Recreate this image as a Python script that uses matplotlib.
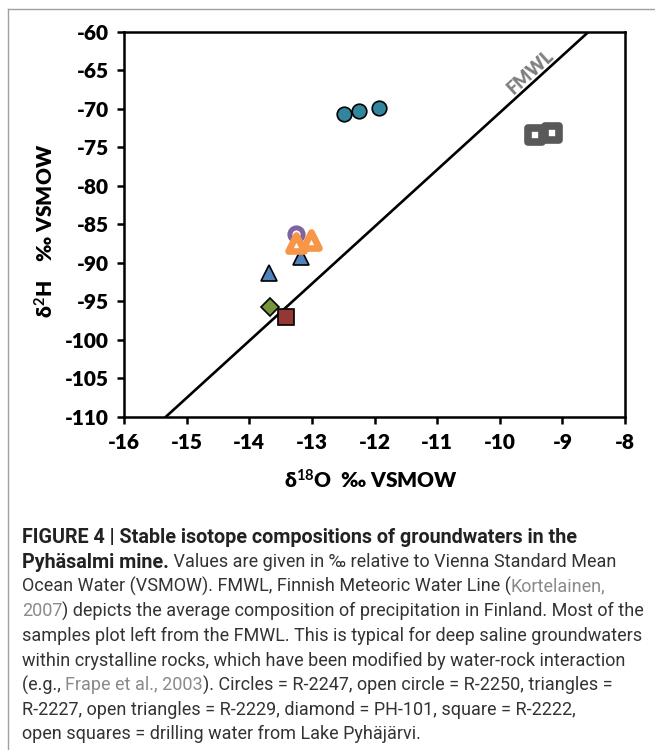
import matplotlib
matplotlib.use("Agg")
import matplotlib.pyplot as plt
from matplotlib.markers import MarkerStyle
from matplotlib import font_manager
from matplotlib.lines import Line2D

# ---------------- data ----------------
circles_x = [-12.49, -12.25, -11.93]          # R-2247
circles_y = [-70.7, -70.3, -69.9]
open_circle_x = [-13.25]                      # R-2250
open_circle_y = [-86.3]
triangles_x = [-13.18, -13.68]                # R-2227
triangles_y = [-89.2, -91.3]
open_triangles_x = [-13.26, -13.02]           # R-2229
open_triangles_y = [-87.5, -87.0]
diamond_x = [-13.67]                          # PH-101
diamond_y = [-95.7]
square_x = [-13.41]                           # R-2222
square_y = [-97.0]
open_squares_x = [-9.44, -9.17]               # drilling water
open_squares_y = [-73.4, -73.1]
fmwl_x = [-15.33, -8.58]                      # FMWL endpoints
fmwl_y = [-110.0, -60.0]

x_ticks = [-16, -15, -14, -13, -12, -11, -10, -9, -8]
y_ticks = [-60, -65, -70, -75, -80, -85, -90, -95, -100, -105, -110]

W, H = 655, 750
DPI = 100
plt.rcParams["mathtext.fontset"] = "custom"
plt.rcParams["mathtext.rm"] = "Lato:bold"
plt.rcParams["mathtext.it"] = "Lato:bold"
plt.rcParams["mathtext.bf"] = "Lato:bold"
fig = plt.figure(figsize=(W / DPI, H / DPI), dpi=DPI)

chart_font = ["Lato", "DejaVu Sans"]
TICK_W = "heavy"

def px(x, y):
    return x / W, 1 - y / H

left, right, top, bottom = 124, 625, 31.7, 416.7
ax = fig.add_axes([left / W, 1 - bottom / H, (right - left) / W, (bottom - top) / H])
ax.set_xlim(-16, -8)
ax.set_ylim(-110, -60)
ax.set_xticks(x_ticks)
ax.set_yticks(y_ticks)
ax.set_xticklabels([str(v) for v in x_ticks], fontfamily=chart_font, fontweight=TICK_W, fontsize=15)
ax.set_yticklabels([str(v) for v in y_ticks], fontfamily=chart_font, fontweight=TICK_W, fontsize=15)
ax.tick_params(axis="x", direction="out", length=5, width=1.8, pad=7, colors="black")
ax.tick_params(axis="y", direction="out", length=5, width=1.8, pad=6, colors="black")
for s in ax.spines.values():
    s.set_linewidth(1.8)

# FMWL
ax.plot(fmwl_x, fmwl_y, color="black", lw=1.9, zorder=2)
ax.text(-9.5, -65.3, "FMWL", rotation=42.5, color="#7f7f7f", fontweight="heavy",
        fontsize=13, fontfamily=chart_font, ha="center", va="center", rotation_mode="anchor")

# markers
ax.plot(circles_x, circles_y, ls="none", marker="o", ms=10.5, mfc="#31859C", mec="black", mew=1.2, zorder=3)
ax.plot(open_squares_x, open_squares_y, ls="none", marker=MarkerStyle("s", joinstyle="round"),
        ms=9.5, mfc="white", mec="#595959", mew=5.5, zorder=3)
ax.plot(triangles_x, triangles_y, ls="none", marker="^", ms=11.5, mfc="#4F81BD", mec="black", mew=1.2, zorder=3)
ax.plot(open_circle_x, open_circle_y, ls="none", marker="o", ms=9.5, mfc="white", mec="#8064A2", mew=3.6, zorder=4)
ax.plot(open_triangles_x, open_triangles_y, ls="none", marker=MarkerStyle("^", joinstyle="round"),
        ms=11.5, mfc="white", mec="#F79646", mew=4.8, zorder=5)
ax.plot(diamond_x, diamond_y, ls="none", marker="D", ms=9, mfc="#77933C", mec="black", mew=1.2, zorder=3)
ax.plot(square_x, square_y, ls="none", marker="s", ms=11, mfc="#953735", mec="black", mew=1.2, zorder=3)

# axis labels
fig.text(*px(45, 231), "δ$^{2}$H    ‰ VSMOW", rotation=90, ha="center", va="center",
         fontfamily=chart_font, fontweight="heavy", fontsize=15)
fig.text(*px(371, 480), "δ$^{18}$O  ‰ VSMOW", ha="center", va="center",
         fontfamily=chart_font, fontweight="heavy", fontsize=15)

# frame around figure
fig.add_artist(Line2D([7.5 / W, 7.5 / W], [0, 1 - 8.5 / H], color="#a0a0a0", lw=1.0, transform=fig.transFigure))
fig.add_artist(Line2D([7.5 / W, 1], [1 - 8.5 / H, 1 - 8.5 / H], color="#a0a0a0", lw=1.0, transform=fig.transFigure))

# caption
names = {f.name for f in font_manager.fontManager.ttflist}
cap_font = "Liberation Sans Narrow" if "Liberation Sans Narrow" in names else "Roboto"
TXT, BOLD, LINK = "#333333", "#222222", "#8a8a8a"
caption = [
    [("FIGURE 4 | Stable isotope compositions of groundwaters in the", "b")],
    [("Pyhäsalmi mine.", "b"), (" Values are given in ‰ relative to Vienna Standard Mean", "n")],
    [("Ocean Water (VSMOW). FMWL, Finnish Meteoric Water Line (", "n"), ("Kortelainen,", "l")],
    [("2007", "l"), (") depicts the average composition of precipitation in Finland. Most of the", "n")],
    [("samples plot left from the FMWL. This is typical for deep saline groundwaters", "n")],
    [("within crystalline rocks, which have been modified by water-rock interaction", "n")],
    [("(e.g., ", "n"), ("Frape et al., 2003", "l"), ("). Circles = R-2247, open circle = R-2250, triangles =", "n")],
    [("R-2227, open triangles = R-2229, diamond = PH-101, square = R-2222,", "n")],
    [("open squares = drilling water from Lake Pyhäjärvi.", "n")],
]
renderer = fig.canvas.get_renderer()
fam = [cap_font, "DejaVu Sans"]
probe = fig.text(0, 0, caption[4][0][0], fontfamily=fam, fontsize=10)
w10 = probe.get_window_extent(renderer).width
probe.remove()
fs = 10 * 618 / w10
probe = fig.text(0, 0, caption[0][0][0], fontfamily=fam, fontsize=10, fontweight="bold")
wb10 = probe.get_window_extent(renderer).width
probe.remove()
fsb = min(10 * 556 / wb10, fs * 1.1)

y0, dy = 537.5, 24.6
for i, segs in enumerate(caption):
    x = 22
    y = y0 + i * dy
    for s, kind in segs:
        t = fig.text(x / W, 1 - y / H, s, fontfamily=fam, fontsize=fsb if kind == "b" else fs,
                     fontweight="bold" if kind == "b" else "normal",
                     color={"b": BOLD, "n": TXT, "l": LINK}[kind], va="center", ha="left")
        x += t.get_window_extent(renderer).width

fig.savefig("out.png", dpi=DPI)
